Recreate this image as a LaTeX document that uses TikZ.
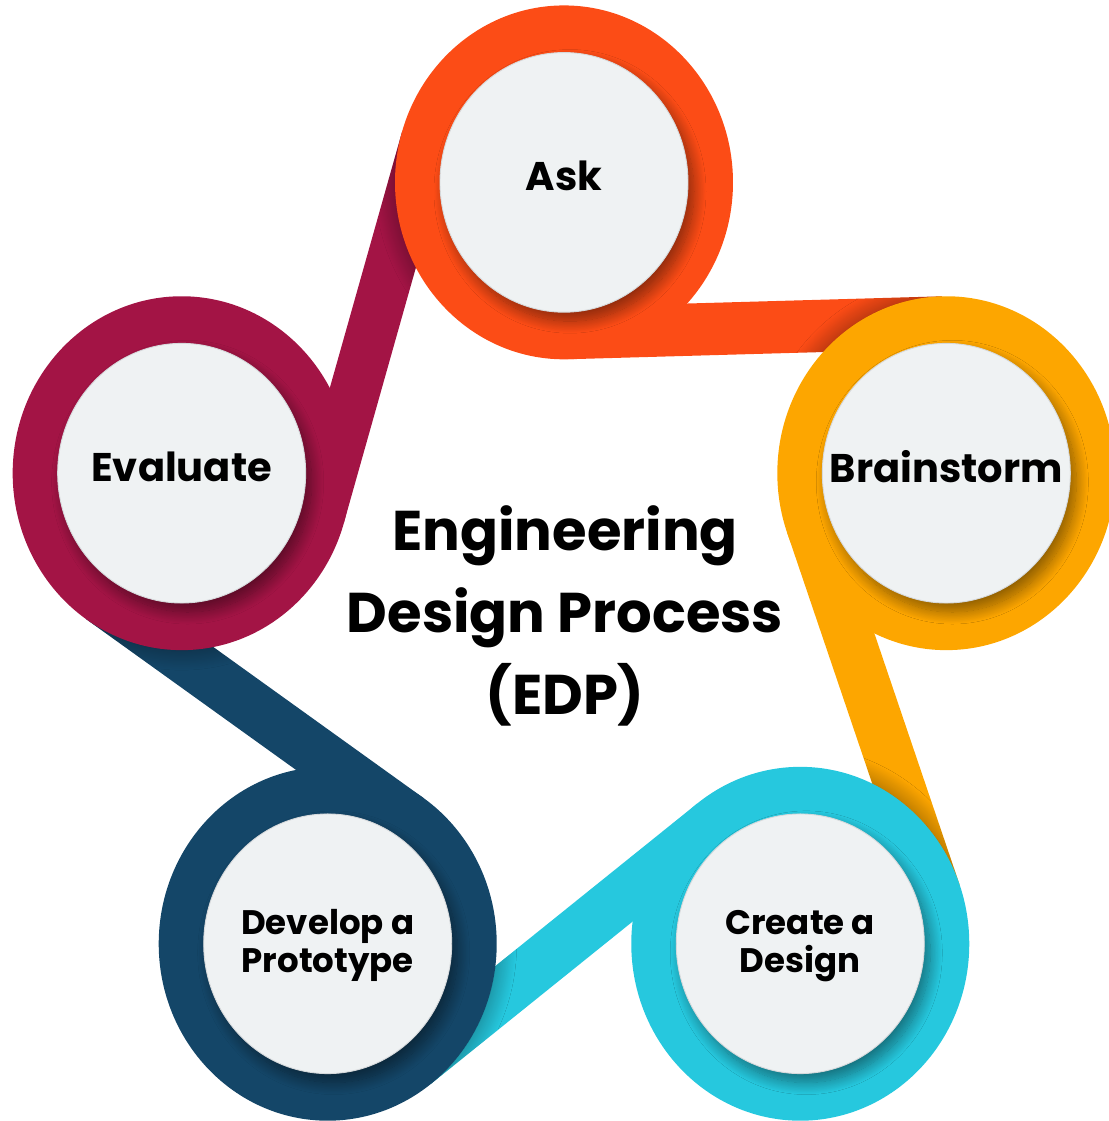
\documentclass[tikz,border=0pt]{standalone}
\usepackage{fontspec}
\setmainfont{Poppins}
\usetikzlibrary{calc,shadows.blur}

\begin{document}
\begin{tikzpicture}[x=1pt,y=1.047pt]

  % Farben der Ringe
  \definecolor{askc}{RGB}{252,76,22}
  \definecolor{brainc}{RGB}{253,166,0}
  \definecolor{createc}{RGB}{38,200,222}
  \definecolor{protoc}{RGB}{20,70,104}
  \definecolor{evalc}{RGB}{163,20,69}
  \definecolor{discbg}{RGB}{239,242,243}
  \definecolor{discrim}{RGB}{214,217,219}

  \tikzset{
    disc/.style={fill=discbg, draw=discrim, line width=0.9pt,
      blur shadow={shadow xshift=6pt, shadow yshift=-9pt, shadow blur radius=12pt, shadow blur steps=20, shadow opacity=45}},
    big/.style={font=\bfseries\fontsize{40}{46}\selectfont},
    small/.style={font=\bfseries\fontsize{34}{38}\selectfont, align=center},
    ringshade/.style={blur shadow={shadow xshift=0pt, shadow yshift=0pt, shadow blur radius=20pt, shadow blur steps=30, shadow opacity=45}}
  }

  \useasboundingbox (0,0) rectangle (1109,1070.7);

  % Mittelpunkte auf einem Fuenfeck
  \coordinate (mid) at (564,494.5);
  \foreach \name/\ang in {ask/90, brain/18, create/-54, proto/-126, eval/162}
    \coordinate (c-\name) at ($(mid)+(\ang:402)$);

  % Baender zwischen den Ringen
  \foreach \a/\b/\ang/\col in {ask/brain/90/askc, brain/create/18/brainc, create/proto/-54/createc, proto/eval/-126/protoc, eval/ask/162/evalc} {
    \fill[\col, path picture={\path[ringshade] (c-\b) circle[radius=169];}]
      ($(c-\a)+(\ang-178.45:169)$) -- ($(c-\b)+(\ang+1.55:119)$) -- ($(c-\b)+(\ang+1.55:169)$) -- ($(c-\a)+(\ang-178.45:119)$) -- cycle;
  }

  % Ringe und Scheiben
  \foreach \name/\col in {ask/askc, brain/brainc, create/createc, proto/protoc, eval/evalc}
    \fill[\col] (c-\name) circle[radius=169];
  \foreach \name in {ask, brain, create, proto, eval}
    \path[disc] (c-\name) circle[radius=124];

  % Beschriftung
  \node[big] (ask) at ($(c-ask)+(0,6)$) {Ask};
  \node[big] (brain) at ($(c-brain)+(0,6)$) {Brainstorm};
  \node[small] (create) at ($(c-create)+(0,-2)$) {Create a\\Design};
  \node[small] (proto) at ($(c-proto)+(0,-2)$) {Develop a\\Prototype};
  \node[big] (eval) at ($(c-eval)+(0,6)$) {Evaluate};

  % Titel
  \node[font=\bfseries\fontsize{56}{82}\selectfont, align=center] (title) at (565,482) {Engineering\\Design Process\\(EDP)};

\end{tikzpicture}
\end{document}
